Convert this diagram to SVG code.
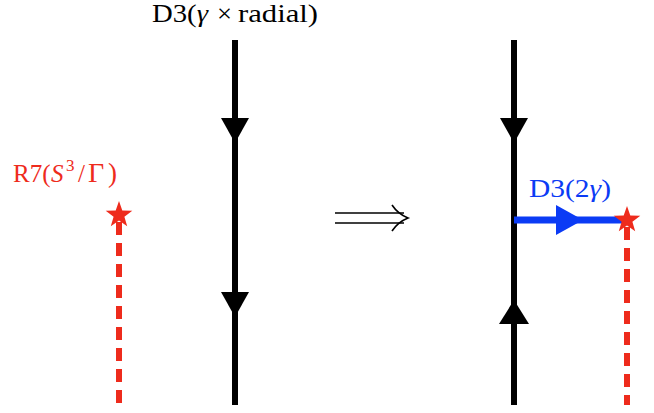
<svg xmlns="http://www.w3.org/2000/svg" width="654" height="413" viewBox="0 0 654 413">
<style>
.lbl{font-family:"Liberation Serif","DejaVu Serif",serif;font-size:25px}
.it{font-style:italic}
.bl{stroke:#000;stroke-width:6;fill:none}
.red{fill:#ee2b1c}
.dash{stroke:#ee2b1c;stroke-width:6;stroke-dasharray:13 8;fill:none}
</style>
<defs>
<polygon id="star" points="0,-14 3.3,-4.5 13.3,-4.3 5.4,1.7 8.2,11.3 0,5.6 -8.2,11.3 -5.4,1.7 -13.3,-4.3 -3.3,-4.5"/>
</defs>
<g id="connectors">
<line class="bl" x1="235" y1="40" x2="235" y2="405"/>
<polygon points="221,118 249,118 235,143" fill="#000"/>
<polygon points="221,292 249,292 235,317" fill="#000"/>
<line class="bl" x1="514" y1="40" x2="514" y2="405"/>
<polygon points="500,118 528,118 514,143" fill="#000"/>
<polygon points="499,324 529,324 514,300" fill="#000"/>
<line x1="514" y1="220" x2="627" y2="220" stroke="#0b3bf5" stroke-width="7"/>
<polygon points="556,205 556,235 583,220" fill="#0b3bf5"/>
<line class="dash" x1="119" y1="222" x2="119" y2="405"/>
<line class="dash" x1="627" y1="227" x2="627" y2="405"/>
<g fill="none" stroke="#000" stroke-width="1.6">
<line x1="335" y1="213" x2="404" y2="213"/>
<line x1="335" y1="223" x2="404" y2="223"/>
<path d="M392,205 Q398,214 408,218 Q398,222 392,231"/>
</g>
</g>
<g id="d3-label" class="lbl">
<text x="152" y="22" textLength="56" lengthAdjust="spacingAndGlyphs">D3(<tspan class="it">γ</tspan></text>
<text x="217" y="22" textLength="15" lengthAdjust="spacingAndGlyphs">×</text>
<text x="238" y="22" textLength="80" lengthAdjust="spacingAndGlyphs">radial)</text>
</g>
<g id="r7-left">
<use href="#star" x="119" y="215" class="red"/>
<text class="lbl" fill="#ee2b1c" x="13" y="182">R7(<tspan class="it" x="51">S</tspan><tspan x="66" y="171" font-size="17">3</tspan><tspan x="78" y="182">/</tspan><tspan x="88" font-size="28">Γ</tspan><tspan x="108" font-size="27">)</tspan></text>
</g>
<g id="r7-right"><use href="#star" x="627" y="220" class="red"/></g>
<g id="d3-2g"><text class="lbl" x="529" y="197" fill="#0b3bf5" textLength="82" lengthAdjust="spacingAndGlyphs">D3(2<tspan class="it">γ</tspan>)</text></g>
</svg>
